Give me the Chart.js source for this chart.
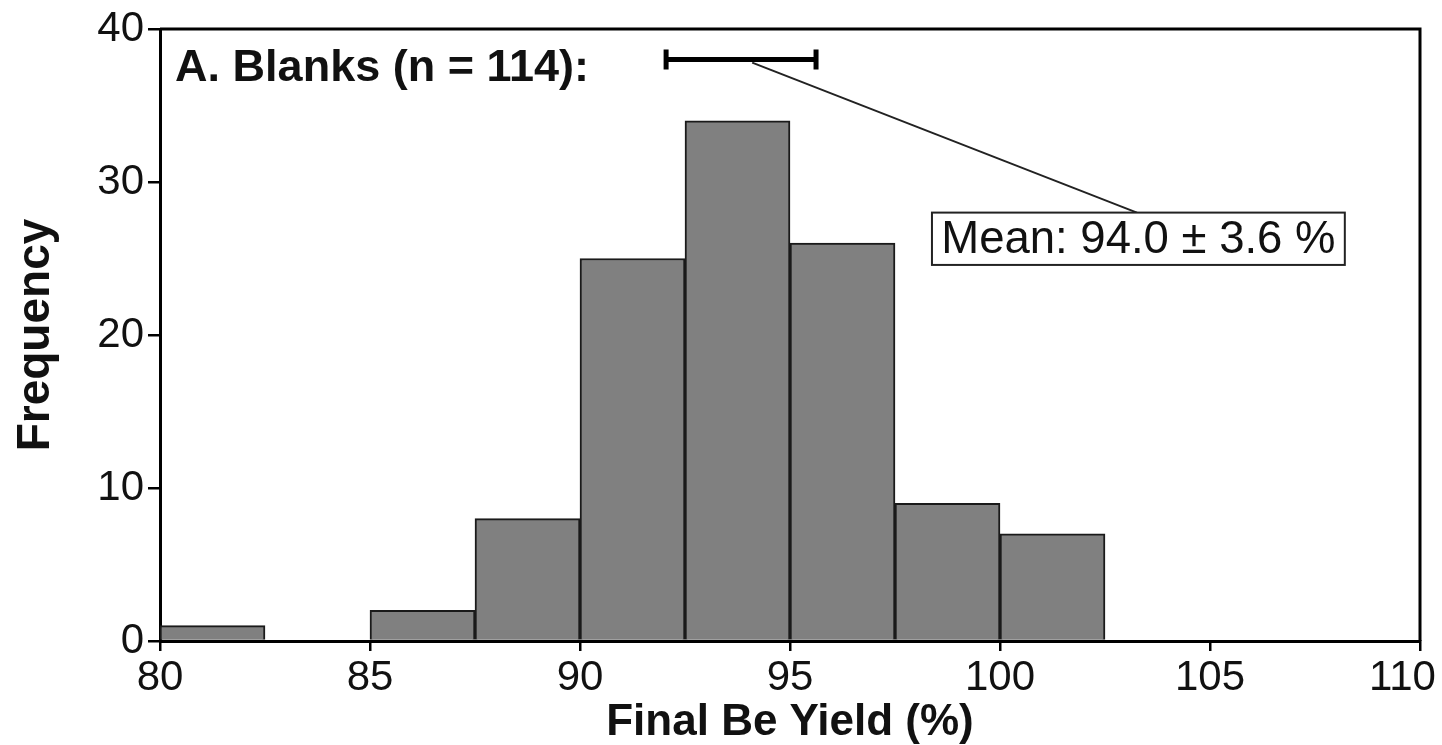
<!DOCTYPE html>
<html>
<head>
<meta charset="utf-8">
<title>Final Be Yield histogram</title>
<script src="https://cdn.jsdelivr.net/npm/chart.js"></script>
<style>
  html, body { margin: 0; padding: 0; background: #fff; }
  #wrap { width: 1442px; height: 745px; }
</style>
</head>
<body>
<div id="wrap"><canvas id="myChart" width="1442" height="745"></canvas></div>
<script>
// histogram bins (lower edge, %) and counts
const binStarts = [80, 82.5, 85, 87.5, 90, 92.5, 95, 97.5, 100];
const counts = [1, 0, 2, 8, 25, 34, 26, 9, 7];
const binWidth = 2.5;
const xTicks = [80, 85, 90, 95, 100, 105, 110];
const yTicks = [0, 10, 20, 30, 40];

const panelTitle = 'A. Blanks (n = 114):';
const meanLabel = 'Mean: 94.0 \u00b1 3.6 %';
// error bar as drawn in the figure (x range in %, y in frequency units)
const errBar = { lo: 92.05, hi: 95.62, y: 38 };

const FONT = '"Liberation Sans", Arial, Helvetica, sans-serif';

const annotate = {
  id: 'annotate',
  afterDatasetsDraw(chart) {
    const { ctx, chartArea: a, scales: { x, y } } = chart;
    ctx.save();
    // frame top/right
    ctx.strokeStyle = '#000';
    ctx.lineWidth = 3;
    ctx.beginPath();
    ctx.moveTo(a.left, a.top);
    ctx.lineTo(a.right, a.top);
    ctx.lineTo(a.right, a.bottom);
    ctx.stroke();

    // panel title
    ctx.fillStyle = '#111';
    ctx.font = 'bold 45px ' + FONT;
    ctx.textBaseline = 'middle';
    ctx.textAlign = 'left';
    ctx.fillText(panelTitle, x.getPixelForValue(80.36), y.getPixelForValue(37.4));

    // leader line from error bar to label box
    ctx.lineWidth = 2;
    ctx.strokeStyle = '#222';
    ctx.beginPath();
    ctx.moveTo(x.getPixelForValue(94.1), y.getPixelForValue(37.8));
    ctx.lineTo(x.getPixelForValue(103.26), y.getPixelForValue(28.0));
    ctx.stroke();

    // error bar
    const ey = y.getPixelForValue(errBar.y);
    const ex0 = x.getPixelForValue(errBar.lo);
    const ex1 = x.getPixelForValue(errBar.hi);
    ctx.strokeStyle = '#000';
    ctx.lineWidth = 5;
    ctx.beginPath();
    ctx.moveTo(ex0, ey); ctx.lineTo(ex1, ey);
    ctx.moveTo(ex0, ey - 10); ctx.lineTo(ex0, ey + 10);
    ctx.moveTo(ex1, ey - 10); ctx.lineTo(ex1, ey + 10);
    ctx.stroke();

    // label box
    const bx0 = x.getPixelForValue(98.38), bx1 = x.getPixelForValue(108.21);
    const by0 = y.getPixelForValue(28.0), by1 = y.getPixelForValue(24.58);
    ctx.fillStyle = '#fff';
    ctx.fillRect(bx0, by0, bx1 - bx0, by1 - by0);
    ctx.lineWidth = 2;
    ctx.strokeStyle = '#222';
    ctx.strokeRect(bx0, by0, bx1 - bx0, by1 - by0);
    ctx.fillStyle = '#111';
    ctx.font = '45.5px ' + FONT;
    ctx.textAlign = 'center';
    ctx.fillText(meanLabel, (bx0 + bx1) / 2, (by0 + by1) / 2 + 2);
    ctx.restore();
  }
};

const ctx = document.getElementById('myChart').getContext('2d');
new Chart(ctx, {
  type: 'bar',
  data: {
    datasets: [{
      data: binStarts.map((s, i) => ({ x: s + binWidth / 2, y: counts[i] })),
      backgroundColor: '#808080',
      borderColor: '#1a1a1a',
      borderWidth: 2,
      barPercentage: 1,
      categoryPercentage: 1
    }]
  },
  options: {
    responsive: false,
    animation: false,
    layout: { padding: { top: 29, right: 22, left: 0, bottom: 0 } },
    plugins: { legend: { display: false }, tooltip: { enabled: false } },
    scales: {
      x: {
        type: 'linear',
        min: 80, max: 110,
        offset: false,
        afterFit(s) { s.height = 104; s.paddingLeft = 0; s.paddingRight = 0; },
        afterBuildTicks(s) { s.ticks = xTicks.map(v => ({ value: v })); },
        border: { display: true, color: '#000', width: 3 },
        grid: { offset: false, drawOnChartArea: false, drawTicks: true, tickLength: 10, color: '#000', lineWidth: 2.5 },
        ticks: {
          color: '#111', padding: 2, font: { family: FONT, size: 42 },
          // last label sits a little left of its tick so it stays on the page
          callback: v => (v === 110 ? '110   ' : String(v))
        },
        title: { display: true, text: 'Final Be Yield (%)', color: '#111', padding: { top: 0, bottom: 0 },
                 font: { family: FONT, size: 44, weight: 'bold', lineHeight: 1 } }
      },
      y: {
        min: 0, max: 40,
        afterFit(s) { s.width = 160; s.paddingTop = 0; s.paddingBottom = 0; },
        afterBuildTicks(s) { s.ticks = yTicks.map(v => ({ value: v })); },
        border: { display: true, color: '#000', width: 3 },
        grid: { drawOnChartArea: false, drawTicks: true, tickLength: 12, color: '#000', lineWidth: 2.5 },
        ticks: { color: '#111', padding: 4, font: { family: FONT, size: 42 } },
        title: { display: true, text: 'Frequency', color: '#111', padding: { top: 13, bottom: 0 },
                 font: { family: FONT, size: 46, weight: 'bold', lineHeight: 1 } }
      }
    }
  },
  plugins: [annotate]
});
</script>
</body>
</html>
